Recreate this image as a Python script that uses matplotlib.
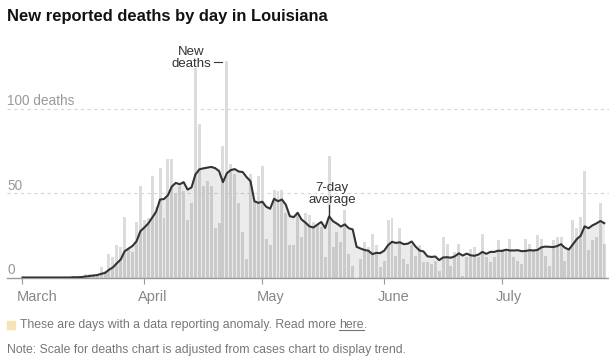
import matplotlib
matplotlib.use("Agg")
import matplotlib.pyplot as plt
import matplotlib.transforms as mtransforms
import pandas as pd

plt.rcParams['font.family'] = ['Liberation Sans', 'DejaVu Sans']

# daily new deaths, March 1 .. July 27
march = [0, 0, 0, 0, 0, 0, 0, 0, 0, 0, 0, 0, 0, 1, 0, 1, 2, 2, 2, 2,
         6, 4, 14, 12, 19, 18, 36, 17, 15, 33, 54]
april = [34, 35, 60, 42, 65, 35, 70, 70, 50, 54, 51, 34, 44, 124, 91,
         54, 57, 54, 29, 32, 78, 128, 67, 61, 44, 27, 11, 61, 45, 60]
may = [66, 23, 19, 52, 51, 52, 38, 19, 19, 37, 24, 38, 37, 33, 31, 30,
       12, 72, 18, 27, 21, 40, 14, 7, 0, 11, 21, 18, 26, 19, 6]
june = [10, 34, 35, 13, 29, 11, 8, 19, 13, 19, 9, 9, 8, 10, 4, 24, 20,
        7, 15, 20, 1, 12, 17, 18, 12, 26, 12, 9, 12, 22]
july = [17, 17, 23, 12, 10, 8, 23, 20, 16, 25, 23, 13, 7, 22, 24, 24,
        10, 16, 34, 29, 36, 63, 16, 22, 24, 44, 20]

month_names = ['March', 'April', 'May', 'June', 'July']
month_starts = [0, 31, 61, 92, 122]

deaths = march + april + may + june + july
days = list(range(len(deaths)))
avg = pd.Series(deaths).rolling(7, min_periods=1).mean()

fig = plt.figure(figsize=(6.09, 3.61), dpi=100)
ax = fig.add_axes([7 / 609, 1 - 277.5 / 361, 602 / 609, 219.7 / 361])

ax.bar(days, deaths, width=0.75, color='#dcdcdc', zorder=1)
ax.fill_between(days, avg, 0, color='black', alpha=0.08, lw=0, zorder=2)
ax.plot(days, avg, color='#333333', lw=1.5, zorder=3, solid_joinstyle='round')

ax.set_xlim(-3.94, 149.2)
ax.set_ylim(0, 130)

for s in ['top', 'right', 'left']:
    ax.spines[s].set_visible(False)
ax.spines['bottom'].set_color('#999999')
ax.spines['bottom'].set_linewidth(1)

# gridlines + y labels
ytrans = ax.get_yaxis_transform()
for v, lab in [(50, '50'), (100, '100 deaths')]:
    ax.axhline(v, color='#d6d6d6', lw=0.8, ls=(0, (3, 3)), zorder=0)
    ax.text(0, v + 2, lab, transform=ytrans, ha='left', va='baseline',
            fontsize=9.8, color='#999999')
ax.text(0, 2, '0', transform=ytrans, ha='left', va='baseline',
        fontsize=9.8, color='#999999')
ax.set_yticks([])

ax.set_xticks(month_starts, labels=month_names)
ax.tick_params(axis='x', length=4, width=0.8, color='#999999', labelcolor='#888888',
               labelsize=10.5, pad=5)
offset = mtransforms.ScaledTranslation(-6 / 100, 0, fig.dpi_scale_trans)
for lab in ax.get_xticklabels():
    lab.set_ha('left')
    lab.set_transform(lab.get_transform() + offset)

# annotations
ax.text(48.0, 122.8, 'New\ndeaths', ha='right', va='bottom', multialignment='center',
        fontsize=9.5, color='#333333', linespacing=1.0)
ax.plot([48.7, 50.8], [127.5, 127.5], color='#333333', lw=0.8, clip_on=False)
ax.text(78.8, 42.3, '7-day\naverage', ha='center', va='bottom', fontsize=9.5,
        color='#333333', linespacing=1.0)
ax.plot([77.9, 77.9], [36, 43], color='#333333', lw=0.8)

fig.text(7 / 609, 1 - 17 / 361, 'New reported deaths by day in Louisiana',
         fontsize=11.9, weight='bold', color='#121212', va='center')

# footnotes
fig.patches.append(plt.Rectangle((7 / 609, 1 - 329 / 361), 8 / 609, 8 / 361,
                                 transform=fig.transFigure, color='#f5e3b3'))
fs = 8.85
t1 = fig.text(20 / 609, 1 - 325 / 361,
              'These are days with a data reporting anomaly. Read more ',
              fontsize=fs, color='#777777', va='center')
renderer = fig.canvas.get_renderer()
bb = t1.get_window_extent(renderer)
inv = fig.transFigure.inverted()
x_end = inv.transform((bb.x1, bb.y0))[0]
t2 = fig.text(x_end, 1 - 325 / 361, 'here', fontsize=fs, color='#777777', va='center')
bb2 = t2.get_window_extent(renderer)
x0f, y0f = inv.transform((bb2.x0, bb2.y0))
x1f = inv.transform((bb2.x1, bb2.y0))[0]
fig.add_artist(plt.Line2D([x0f, x1f], [y0f + 1 / 361, y0f + 1 / 361], color='#777777', lw=0.8))
fig.text(x1f, 1 - 325 / 361, '.', fontsize=fs, color='#777777', va='center')

fig.text(7 / 609, 1 - 350 / 361,
         'Note: Scale for deaths chart is adjusted from cases chart to display trend.',
         fontsize=fs, color='#777777', va='center')

fig.savefig('out.png', dpi=100)
